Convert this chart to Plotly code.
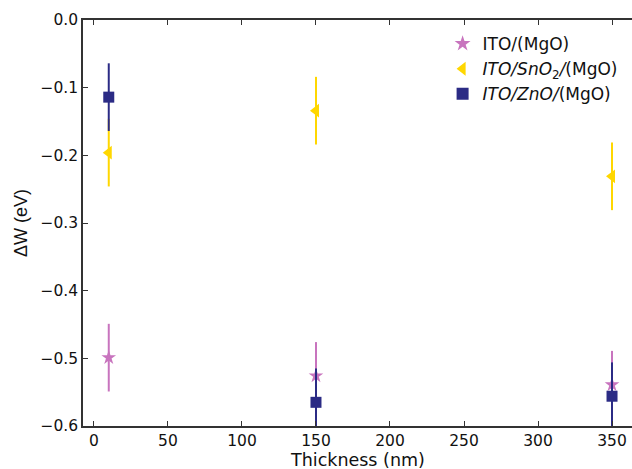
import plotly.graph_objects as go

thickness = [10, 150, 350]
ito_mgo = [-0.499, -0.526, -0.539]
ito_sno2_mgo = [-0.196, -0.134, -0.231]
ito_zno_mgo = [-0.114, -0.565, -0.556]
err_ito = [0.05, 0.05, 0.05]
err_sno2 = [0.05, 0.05, 0.05]
err_zno = [0.05, 0.05, 0.05]

series = [
    ("ITO/(MgO)", ito_mgo, err_ito, "#C874BE", "star", 11),
    ("<i>ITO/SnO</i><sub>2</sub><i>/</i>(MgO)", ito_sno2_mgo, err_sno2, "#FFD700", "triangle-left", 12),
    ("<i>ITO/ZnO/</i>(MgO)", ito_zno_mgo, err_zno, "#2B2B85", "square", 11),
]

fig = go.Figure()
for name, ys, errs, col, sym, sz in series:
    fig.add_trace(go.Scatter(
        x=thickness, y=ys, mode="markers", name=name,
        marker=dict(symbol=sym, size=sz, color=col, line=dict(width=0)),
        error_y=dict(type="data", array=errs, visible=True, color=col, thickness=2, width=0),
    ))

axis_common = dict(
    showline=True, linecolor="#333", linewidth=1.5, ticks="inside", ticklen=5,
    tickcolor="#333", tickwidth=1, showgrid=False, zeroline=False, automargin=False,
    tickfont=dict(family="DejaVu Sans", size=15.5, color="#111"),
)
fig.update_layout(
    width=632, height=469,
    margin=dict(l=83, r=0, t=20, b=43),
    plot_bgcolor="white", paper_bgcolor="white",
    xaxis=dict(range=[-7.4, 363.5], tickvals=[0, 50, 100, 150, 200, 250, 300, 350],
               mirror="ticks", **axis_common),
    yaxis=dict(range=[-0.6, 0.0], tickvals=[0, -0.1, -0.2, -0.3, -0.4, -0.5, -0.6],
               tickformat=".1f",
               title=dict(text="ΔW (eV)", standoff=8,
                          font=dict(family="Liberation Sans", size=18, color="#111")),
               **axis_common),
    legend=dict(x=0.655, y=0.985, xanchor="left", yanchor="top",
                bgcolor="rgba(0,0,0,0)", font=dict(family="DejaVu Sans", size=17, color="#111"),
                itemsizing="constant", tracegroupgap=0),
    showlegend=True,
    annotations=[dict(text="Thickness (nm)", xref="x", x=178, yref="paper", y=0,
                      yanchor="top", xanchor="center", yshift=-22, showarrow=False,
                      font=dict(family="DejaVu Sans", size=17.5, color="#111"))],
)
fig.write_html("out.html", config={"displayModeBar": False},
               post_script="document.body.style.margin='0';document.body.style.overflow='hidden';")
